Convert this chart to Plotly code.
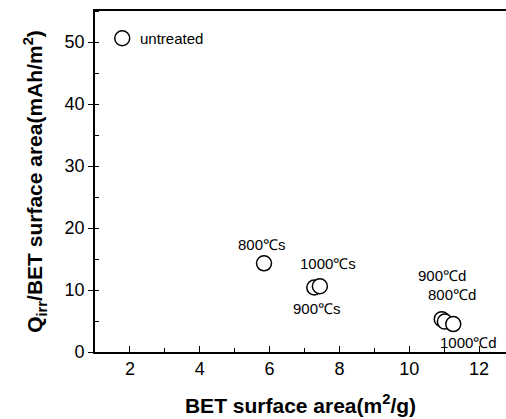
import plotly.graph_objects as go

# Data
samples = ["untreated", "800℃s", "900℃s", "1000℃s", "900℃d", "800℃d", "1000℃d"]
bet_area = [1.78, 5.84, 7.28, 7.44, 10.93, 11.02, 11.26]
q_irr_per_area = [50.6, 14.3, 10.4, 10.6, 5.3, 4.9, 4.5]

# label anchor positions (data coords) for the sample texts
label_x = [2.23, 5.77, 7.37, 7.67, 10.95, 11.21, 11.71]
label_y = [50.6, 17.4, 6.95, 14.3, 12.3, 9.3, 1.5]
label_anchor = ["left", "center", "center", "center", "center", "center", "center"]

font_family = "Liberation Sans, Arial, sans-serif"

fig = go.Figure()
fig.add_trace(go.Scatter(
    x=bet_area, y=q_irr_per_area, mode="markers",
    marker=dict(symbol="circle", size=15, color="white",
                line=dict(color="black", width=1.5)),
    showlegend=False, hoverinfo="skip"))

for s, lx, ly, an in zip(samples, label_x, label_y, label_anchor):
    fig.add_annotation(x=lx, y=ly, text=s, showarrow=False, xanchor=an,
                       yanchor="middle",
                       font=dict(family=font_family, size=15, color="black"))

fig.update_layout(
    width=506, height=419,
    margin=dict(l=95, r=0, t=11, b=67),
    paper_bgcolor="white", plot_bgcolor="white",
    font=dict(family=font_family, color="black"),
    xaxis=dict(
        range=[1, 12.77], tickvals=[2, 4, 6, 8, 10, 12],
        showline=True, linecolor="black", linewidth=1.6, mirror=True,
        ticks="inside", ticklen=6, tickwidth=1.4, tickcolor="black",
        minor=dict(dtick=1, tick0=1, ticks="inside", ticklen=4, tickwidth=1.2, tickcolor="black"),
        showgrid=False, zeroline=False,
        tickfont=dict(size=18, family=font_family),
        title=dict(text="<b>BET surface area(m<sup>2</sup>/g)</b>", font=dict(size=21, family=font_family), standoff=20),
    ),
    yaxis=dict(
        range=[0, 55], tickvals=[0, 10, 20, 30, 40, 50],
        showline=True, linecolor="black", linewidth=1.6,
        ticks="outside", ticklen=5, tickwidth=1.4, tickcolor="black",
        minor=dict(dtick=5, tick0=0, ticks="inside", ticklen=4, tickwidth=1.2, tickcolor="black"),
        showgrid=False, zeroline=False,
        tickfont=dict(size=18, family=font_family),
        title=dict(text="<b>Q<sub>irr</sub>/BET surface area(mAh/m<sup>2</sup>)</b>", font=dict(size=21, family=font_family), standoff=16),
    ),
)

fig.write_html("out.html")
